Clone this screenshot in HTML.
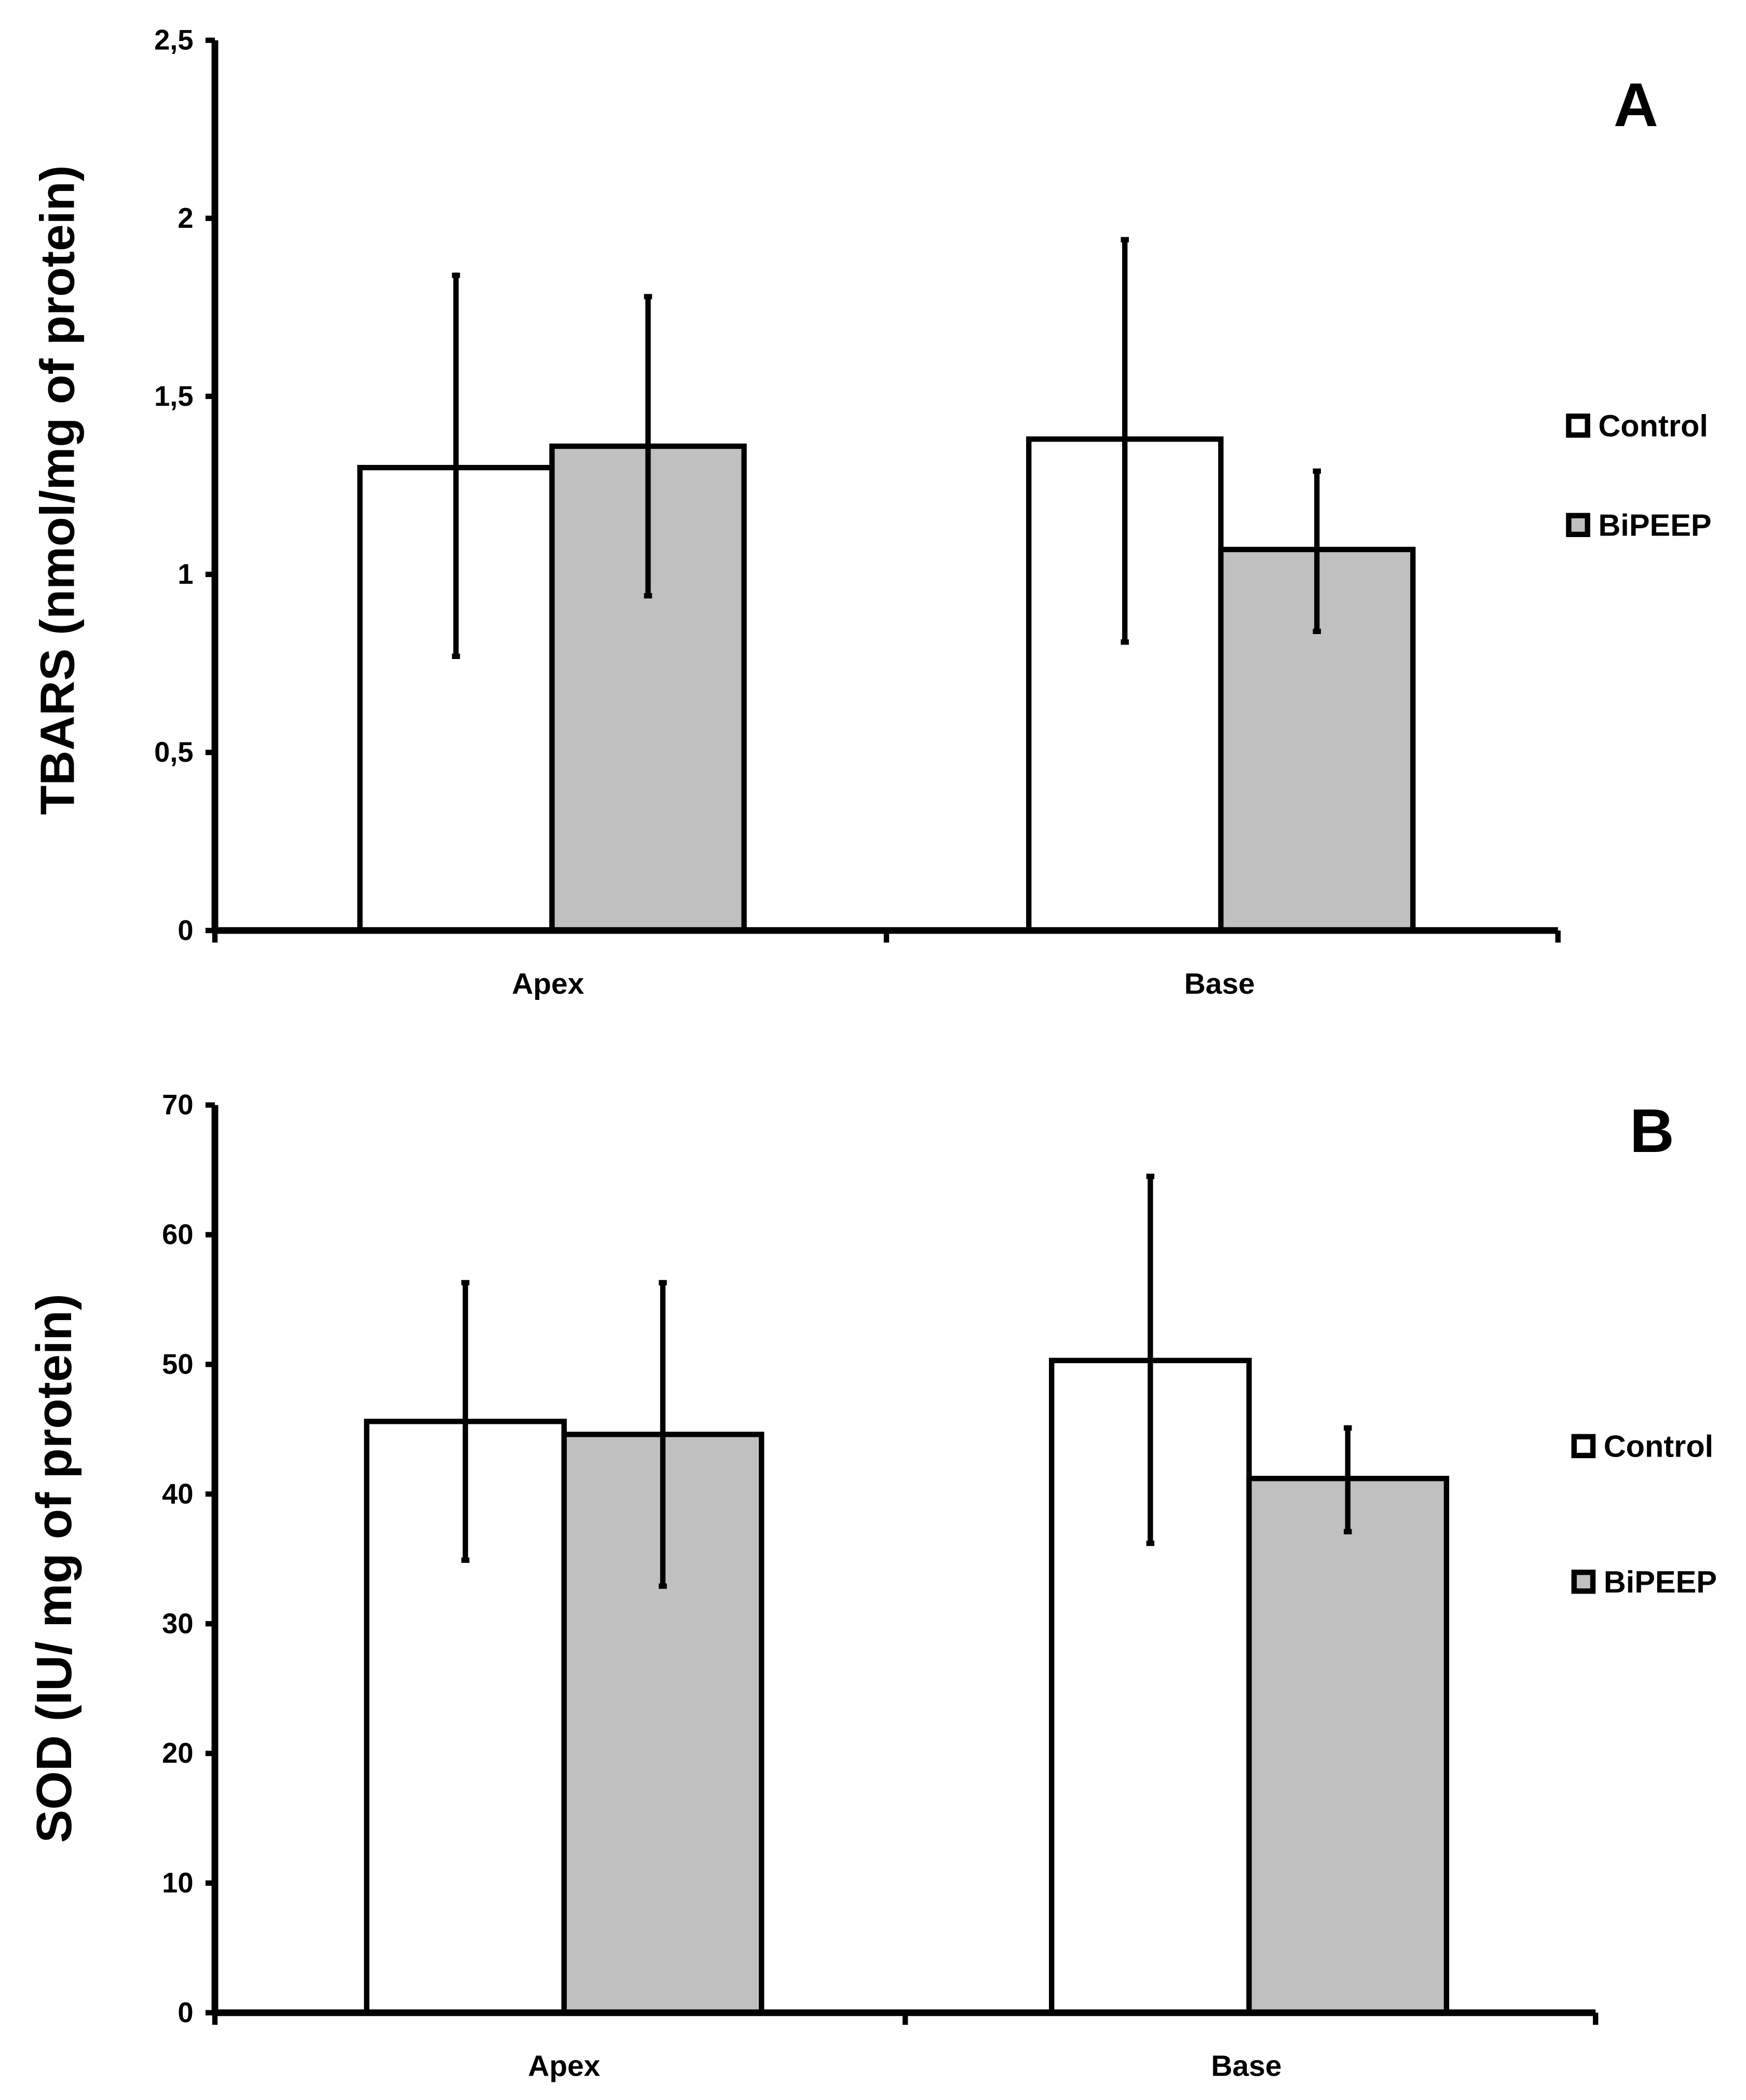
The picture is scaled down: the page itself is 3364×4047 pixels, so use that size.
<!DOCTYPE html>
<html><head><meta charset="utf-8"><style>html,body{margin:0;padding:0;background:#fff}svg{display:block}</style></head>
<body>
<svg id="fig" width="3364" height="4047" viewBox="0 0 1300 1564" preserveAspectRatio="none" xmlns="http://www.w3.org/2000/svg" font-family="Liberation Sans, sans-serif" font-weight="bold"></svg>
<script>
const groups = ["Apex","Base"];
const seriesNames = ["Control","BiPEEP"];
const tbarsVals = [[1.30,1.36],[1.38,1.07]];
const tbarsHi = [[1.84,1.78],[1.94,1.29]];
const tbarsLo = [[0.77,0.94],[0.81,0.84]];
const tbarsTicks = ["0","0,5","1","1,5","2","2,5"];
const sodVals = [[45.6,44.6],[50.3,41.2]];
const sodHi = [[56.3,56.3],[64.5,45.1]];
const sodLo = [[34.9,32.9],[36.2,37.1]];
const sodTicks = ["0","10","20","30","40","50","60","70"];
const NS="http://www.w3.org/2000/svg";
const svg=document.getElementById('fig');
function mk(tag,attrs,parent){const e=document.createElementNS(NS,tag);for(const k in attrs)e.setAttribute(k,attrs[k]);(parent||svg).appendChild(e);return e;}
function panel(cfg){
  const g=mk('g',{});
  
  
  const x0=cfg.x0,x1=cfg.x1,yTop=cfg.yTop,yZero=cfg.yZero,vmax=cfg.vmax;
  const y=v=>yZero-(v/vmax)*(yZero-yTop);
  const ticksN=cfg.ticks.length-1;
  const gw=(x1-x0)/groups.length, bw=cfg.bw;
  groups.forEach((gn,gi)=>{
    const cx=x0+gw*(gi+0.5)+cfg.shift[gi];
    seriesNames.forEach((sn,si)=>{
      const bx=cx-bw+si*bw, v=cfg.vals[gi][si];
      const r=mk('rect',{x:bx,y:y(v),width:bw,height:yZero-y(v),fill:si?'#c0c0c0':'#fff',stroke:'#000','stroke-width':4},g);
      
      
      const ex=bx+bw/2;
      const eb=mk('g',{stroke:'#000'},g);
      
      
      mk('line',{x1:ex,x2:ex,y1:y(cfg.hi[gi][si]),y2:y(cfg.lo[gi][si]),'stroke-width':4},eb);
      mk('line',{x1:ex-3,x2:ex+3,y1:y(cfg.hi[gi][si]),y2:y(cfg.hi[gi][si]),'stroke-width':4},eb);
      mk('line',{x1:ex-3,x2:ex+3,y1:y(cfg.lo[gi][si]),y2:y(cfg.lo[gi][si]),'stroke-width':4},eb);
    });
    const t=mk('text',{x:x0+gw*(gi+0.5)+cfg.labShift[gi],y:yZero+47,'font-size':22,'text-anchor':'middle'},g);
    t.textContent=gn;
    
    
  });
  const ax=mk('g',{stroke:'#000'},g);
  
  
  mk('line',{x1:x0,x2:x0,y1:yTop,y2:yZero+2,'stroke-width':5},ax);
  mk('line',{x1:x0-2,x2:x1,y1:yZero,y2:yZero,'stroke-width':5},ax);
  for(let i=0;i<=groups.length;i++){const tx=x0+gw*i;mk('line',{x1:tx,x2:tx,y1:yZero,y2:yZero+9,'stroke-width':4},ax);}
  cfg.ticks.forEach((lab,i)=>{
    const ty=yZero-(i/ticksN)*(yZero-yTop);
    mk('line',{x1:x0-7,x2:x0,y1:ty,y2:ty,'stroke-width':4},ax);
    const t=mk('text',{x:x0-16,y:ty+7,'font-size':21,'text-anchor':'end'},g);
    t.textContent=lab;
    
    
  });
  const yt=mk('text',{x:0,y:0,'font-size':cfg.titleSize,'text-anchor':'middle',transform:`translate(${cfg.titleX},${cfg.titleY}) rotate(-90)`},g);
  yt.textContent=cfg.title;
  
  
  const L=mk('text',{x:cfg.letterX,y:cfg.letterY,'font-size':46,'text-anchor':'middle'},g);
  L.textContent=cfg.letter;
  
  
  seriesNames.forEach((sn,si)=>{
    const ly=cfg.legY[si];
    const le=mk('g',{},g);
    
    
    mk('rect',{x:cfg.legX,y:ly-7,width:14,height:14,fill:si?'#c0c0c0':'#fff',stroke:'#000','stroke-width':4},le);
    const t=mk('text',{x:cfg.legX+22,y:ly+8,'font-size':23},le);
    t.textContent=sn;
  });
}
panel({name:'panel-a-tbars',x0:160,x1:1160,yTop:30,yZero:693,vmax:2.5,bw:143,shift:[1,-1],vals:tbarsVals,hi:tbarsHi,lo:tbarsLo,ticks:tbarsTicks,
  title:'TBARS (nmol/mg of protein)',titleSize:36,titleX:55,titleY:365,letter:'A',letterX:1218,letterY:94,legX:1168,legY:[317,391],labShift:[-2,-2]});
panel({name:'panel-b-sod',x0:160,x1:1188,yTop:823,yZero:1499,vmax:70,bw:147,shift:[3,-1],vals:sodVals,hi:sodHi,lo:sodLo,ticks:sodTicks,
  title:'SOD (IU/ mg of protein)',titleSize:37,titleX:53,titleY:1168,letter:'B',letterX:1230,letterY:858,legX:1172,legY:[1077,1178],labShift:[3,-3]});
</script>
</body></html>
